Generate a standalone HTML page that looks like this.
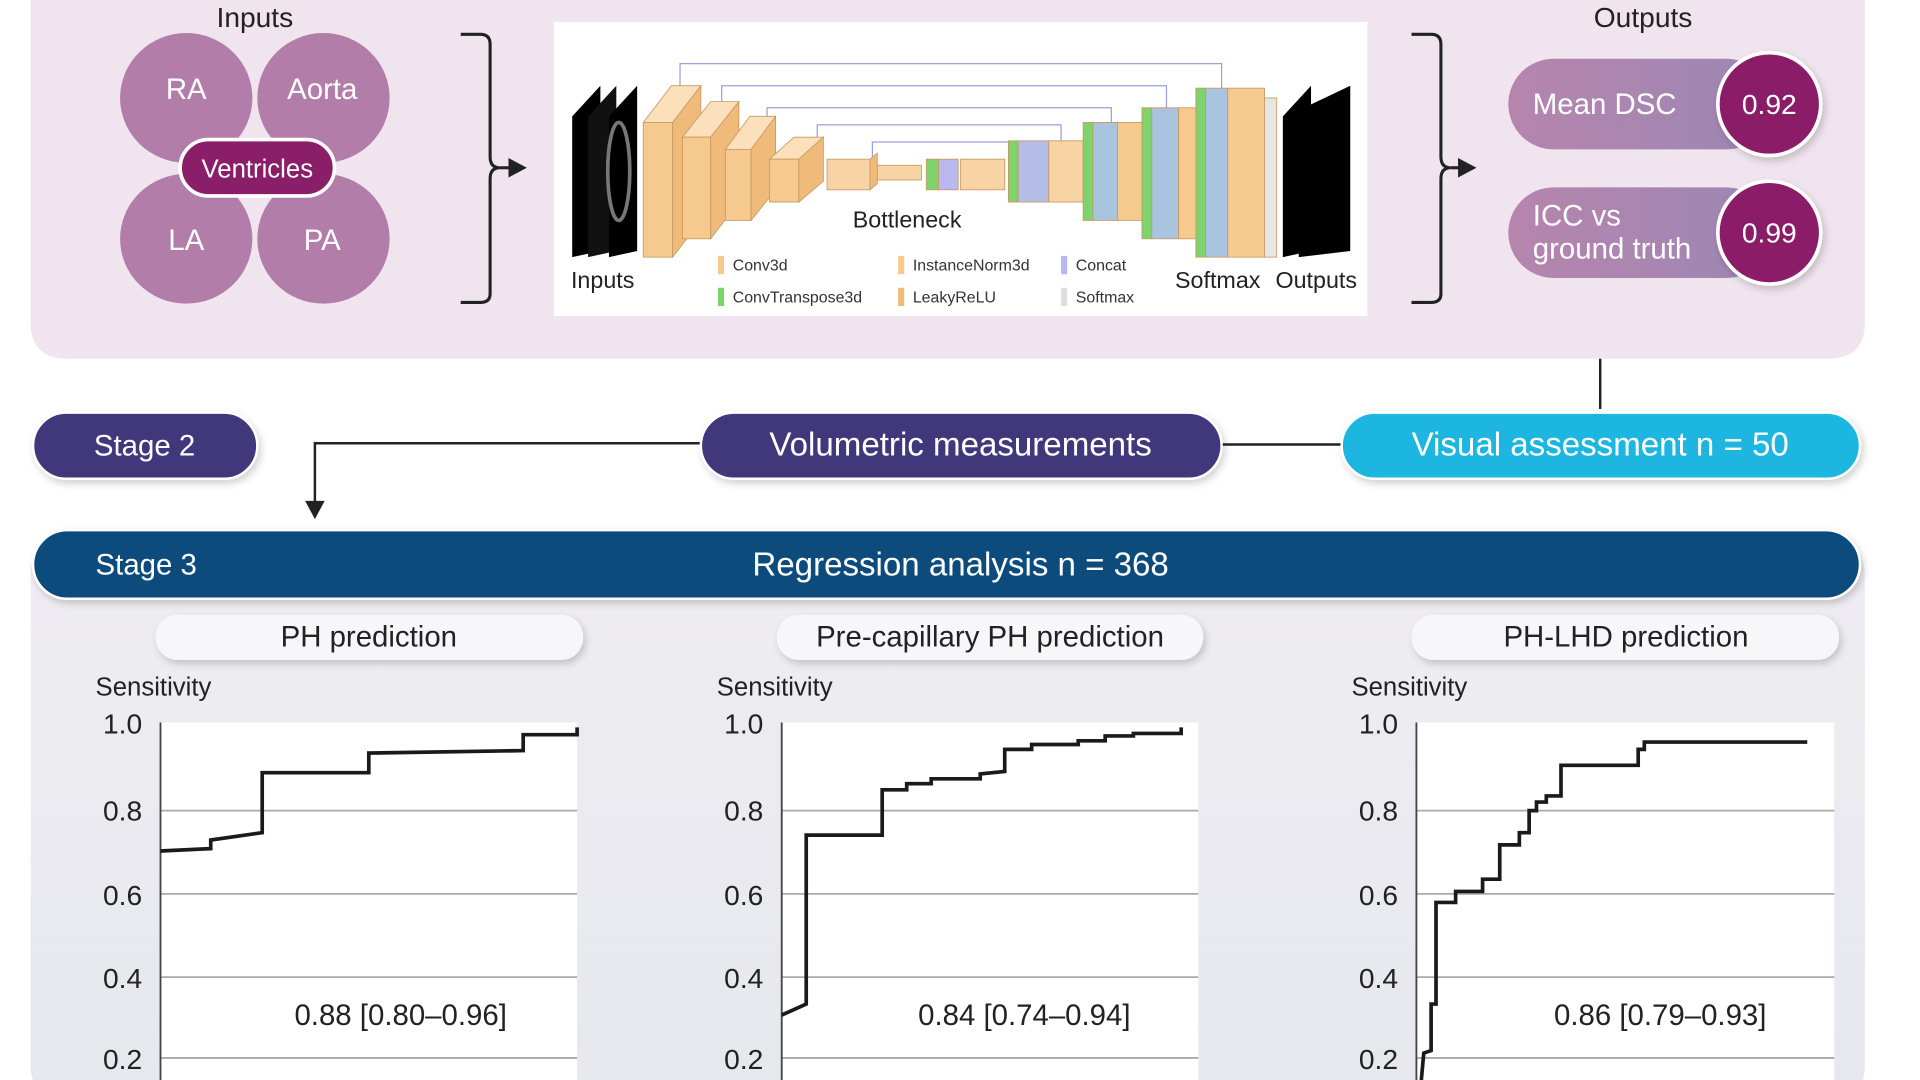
<!DOCTYPE html>
<html><head><meta charset="utf-8"><style>
html,body{margin:0;padding:0;background:#fff;overflow:hidden}
svg{display:block}
text{font-family:"Liberation Sans",sans-serif}
</style></head><body>
<svg width="1920" height="1080" viewBox="0 0 1567 882" preserveAspectRatio="none" xmlns="http://www.w3.org/2000/svg">
<defs>
<linearGradient id="pill" x1="0" x2="1"><stop offset="0" stop-color="#b685ad"/><stop offset="1" stop-color="#9d86b4"/></linearGradient>
<linearGradient id="bot" x1="0" y1="0" x2="0" y2="1"><stop offset="0" stop-color="#efedf2"/><stop offset="1" stop-color="#e6e8ee"/></linearGradient>
<filter id="sh" x="-10%" y="-20%" width="120%" height="150%"><feDropShadow dx="2" dy="3" stdDeviation="3" flood-color="#000" flood-opacity="0.18"/></filter>
</defs>
<path d="M25 0 H1522 V263 Q1522 293 1492 293 H55 Q25 293 25 263 Z" fill="#f0e4ee"/>
<rect x="25" y="440" width="1497" height="460" rx="28" fill="url(#bot)"/>

<text x="208" y="22" font-size="23" text-anchor="middle" fill="#222">Inputs</text>
<g fill="#b27da9">
<ellipse cx="152" cy="80" rx="54" ry="53"/><ellipse cx="264" cy="80" rx="54" ry="53"/>
<ellipse cx="152" cy="195" rx="54" ry="53"/><ellipse cx="264" cy="195" rx="54" ry="53"/>
</g>
<line x1="208" y1="28" x2="208" y2="248" stroke="#f0e4ee" stroke-width="3"/>
<line x1="98" y1="137" x2="318" y2="137" stroke="#f0e4ee" stroke-width="3"/>
<g fill="#fff" font-size="24" text-anchor="middle">
<text x="152" y="81">RA</text><text x="263" y="81">Aorta</text>
<text x="152" y="204">LA</text><text x="263" y="204">PA</text>
</g>
<rect x="147" y="114" width="126" height="46" rx="23" fill="#8a1e68" stroke="#fff" stroke-width="3"/>
<text x="210" y="145" font-size="21" fill="#fff" text-anchor="middle">Ventricles</text>

<g fill="none" stroke="#222" stroke-width="2.5">
<path d="M376 28 H392 Q400 28 400 36 V128 Q400 137 408 137 Q400 137 400 146 V240 Q400 247 392 247 H376"/>
<path d="M408 137 H418"/>
<path d="M1152 28 H1168 Q1176 28 1176 36 V128 Q1176 137 1184 137 Q1176 137 1176 146 V240 Q1176 247 1168 247 H1152"/>
<path d="M1184 137 H1192"/>
</g>
<polygon points="415,129 430,137 415,145" fill="#222"/>
<polygon points="1190,129 1205,137 1190,145" fill="#222"/>

<rect x="452" y="18" width="664" height="240" fill="#fff"/>
<g stroke="#9aa0d8" stroke-width="1" fill="none">
<path d="M555 95 V52 H997 V95"/><path d="M589 112 V70 H952 V112"/><path d="M626 125 V88 H907 V125"/>
<path d="M667 140 V102 H866 V140"/><path d="M712 148 V116 H825 V148"/>
</g>
<polygon points="467,95 490,70 490,205 467,210" fill="#000"/>
<polygon points="480,95 503,70 503,205 480,210" fill="#111"/>
<polygon points="497,95 520,70 520,205 497,210" fill="#000"/>
<ellipse cx="505" cy="140" rx="9" ry="40" fill="none" stroke="#777" stroke-width="3"/>
<polygon points="1047,95 1070,70 1070,205 1047,210" fill="#000"/>
<polygon points="1060,90 1102,70 1102,205 1060,210" fill="#000"/>
<g stroke="#c79a63" stroke-width="0.7">
<polygon points="525,100 548,70 572,70 549,100" fill="#fbe0bb"/><rect x="525" y="100" width="24" height="110" fill="#f6c98e"/><polygon points="549,100 572,70 572,180 549,210" fill="#f0bb7a"/>
<polygon points="557,112 580,83 603,83 580,112" fill="#fbe0bb"/><rect x="557" y="112" width="23" height="83" fill="#f6c98e"/><polygon points="580,112 603,83 603,165 580,195" fill="#f0bb7a"/>
<polygon points="592,122 612,95 633,95 613,122" fill="#fbe0bb"/><rect x="592" y="122" width="21" height="58" fill="#f6c98e"/><polygon points="613,122 633,95 633,155 613,180" fill="#f0bb7a"/>
<polygon points="628,130 648,112 672,112 652,130" fill="#fbe0bb"/><rect x="628" y="130" width="24" height="35" fill="#f6c98e"/><polygon points="652,130 672,112 672,148 652,165" fill="#f0bb7a"/>
<rect x="675" y="130" width="35" height="25" fill="#f8d3a3"/><polygon points="710,130 716,125 716,150 710,155" fill="#f0bb7a"/>
<rect x="716" y="135" width="36" height="12" fill="#f8d3a3"/>
<rect x="756" y="130" width="10" height="25" fill="#7fd36b"/><rect x="766" y="130" width="16" height="25" fill="#b9b9f0"/>
<rect x="784" y="130" width="36" height="25" fill="#f8d3a3"/>
<rect x="823" y="115" width="8" height="50" fill="#7fd36b"/><rect x="831" y="115" width="25" height="50" fill="#b3bde8"/><rect x="856" y="115" width="28" height="50" fill="#f8d3a3"/>
<rect x="884" y="100" width="8" height="80" fill="#7fd36b"/><rect x="892" y="100" width="20" height="80" fill="#a9c4df"/><rect x="912" y="100" width="28" height="80" fill="#f6c98e"/>
<rect x="932" y="88" width="8" height="107" fill="#7fd36b"/><rect x="940" y="88" width="22" height="107" fill="#a9c4df"/><rect x="962" y="88" width="18" height="107" fill="#f6c98e"/>
<rect x="976" y="72" width="8" height="138" fill="#7fd36b"/><rect x="984" y="72" width="18" height="138" fill="#a9c4df"/><rect x="1002" y="72" width="30" height="138" fill="#f6c98e"/>
<rect x="1032" y="80" width="10" height="130" fill="#e6e6e6"/>
</g>
<g font-size="19" fill="#222">
<text x="696" y="186">Bottleneck</text>
<text x="466" y="235">Inputs</text>
<text x="959" y="235">Softmax</text>
<text x="1041" y="235">Outputs</text>
</g>
<g font-size="13" fill="#333">
<rect x="586" y="209" width="5" height="15" fill="#f6c98e"/><text x="598" y="221">Conv3d</text>
<rect x="586" y="235" width="5" height="15" fill="#7fd36b"/><text x="598" y="247">ConvTranspose3d</text>
<rect x="733" y="209" width="5" height="15" fill="#f6c98e"/><text x="745" y="221">InstanceNorm3d</text>
<rect x="733" y="235" width="5" height="15" fill="#f0bb7a"/><text x="745" y="247">LeakyReLU</text>
<rect x="866" y="209" width="5" height="15" fill="#b9b9f0"/><text x="878" y="221">Concat</text>
<rect x="866" y="235" width="5" height="15" fill="#ddd"/><text x="878" y="247">Softmax</text>
</g>

<text x="1341" y="22" font-size="23" text-anchor="middle" fill="#222">Outputs</text>
<rect x="1231" y="48" width="215" height="74" rx="37" fill="url(#pill)"/>
<text x="1251" y="93" font-size="24" fill="#fff">Mean DSC</text>
<circle cx="1444" cy="85" r="42" fill="#8a1e68" stroke="#fff" stroke-width="3" filter="url(#sh)"/>
<text x="1444" y="93" font-size="23" fill="#fff" text-anchor="middle">0.92</text>
<rect x="1231" y="153" width="215" height="74" rx="37" fill="url(#pill)"/>
<text x="1251" y="184" font-size="24" fill="#fff">ICC vs</text>
<text x="1251" y="211" font-size="24" fill="#fff">ground truth</text>
<circle cx="1444" cy="190" r="42" fill="#8a1e68" stroke="#fff" stroke-width="3" filter="url(#sh)"/>
<text x="1444" y="198" font-size="23" fill="#fff" text-anchor="middle">0.99</text>

<line x1="1306" y1="293" x2="1306" y2="334" stroke="#222" stroke-width="2"/>
<line x1="997" y1="363" x2="1095" y2="363" stroke="#222" stroke-width="2"/>
<path d="M572 362 H257 V412" fill="none" stroke="#222" stroke-width="2"/>
<polygon points="249,409 257,424 265,409" fill="#222"/>
<rect x="27" y="337" width="183" height="54" rx="27" fill="#41397a" stroke="#fff" stroke-width="2" filter="url(#sh)"/>
<text x="118" y="372" font-size="24" fill="#fff" text-anchor="middle">Stage 2</text>
<rect x="572" y="337" width="425" height="54" rx="27" fill="#41397a" stroke="#fff" stroke-width="2" filter="url(#sh)"/>
<text x="784" y="372" font-size="27" fill="#fff" text-anchor="middle">Volumetric measurements</text>
<rect x="1095" y="337" width="423" height="54" rx="27" fill="#1db6e0" stroke="#fff" stroke-width="2" filter="url(#sh)"/>
<text x="1306" y="372" font-size="27" fill="#fff" text-anchor="middle">Visual assessment n = 50</text>

<rect x="27" y="433" width="1491" height="56" rx="28" fill="#0d4c7c" stroke="#fff" stroke-width="2" filter="url(#sh)"/>
<text x="78" y="469" font-size="24" fill="#fff">Stage 3</text>
<text x="784" y="470" font-size="27" fill="#fff" text-anchor="middle">Regression analysis n = 368</text>

<g filter="url(#sh)" fill="#f7f7f9">
<rect x="127" y="502" width="349" height="37" rx="18"/>
<rect x="634" y="502" width="348" height="37" rx="18"/>
<rect x="1152" y="502" width="349" height="37" rx="18"/>
</g>
<g font-size="24" fill="#222" text-anchor="middle">
<text x="301" y="528">PH prediction</text>
<text x="808" y="528">Pre-capillary PH prediction</text>
<text x="1327" y="528">PH-LHD prediction</text>
</g>

<g font-size="21" fill="#222">
<text x="78" y="568">Sensitivity</text><text x="585" y="568">Sensitivity</text><text x="1103" y="568">Sensitivity</text>
</g>
<g fill="#fff"><rect x="131" y="590" width="340" height="300"/><rect x="638" y="590" width="340" height="300"/><rect x="1156" y="590" width="341" height="300"/></g>
<g stroke="#aaa" stroke-width="1.5">
<line x1="131" y1="662" x2="471" y2="662"/><line x1="131" y1="730" x2="471" y2="730"/><line x1="131" y1="798" x2="471" y2="798"/><line x1="131" y1="864" x2="471" y2="864"/>
<line x1="638" y1="662" x2="978" y2="662"/><line x1="638" y1="730" x2="978" y2="730"/><line x1="638" y1="798" x2="978" y2="798"/><line x1="638" y1="864" x2="978" y2="864"/>
<line x1="1156" y1="662" x2="1497" y2="662"/><line x1="1156" y1="730" x2="1497" y2="730"/><line x1="1156" y1="798" x2="1497" y2="798"/><line x1="1156" y1="864" x2="1497" y2="864"/>
</g>
<g stroke="#444" stroke-width="1.5">
<line x1="131" y1="590" x2="131" y2="882"/><line x1="638" y1="590" x2="638" y2="882"/><line x1="1156" y1="590" x2="1156" y2="882"/>
</g>
<g font-size="23" fill="#222" text-anchor="end">
<text x="116" y="599">1.0</text><text x="116" y="670">0.8</text><text x="116" y="739">0.6</text><text x="116" y="807">0.4</text><text x="116" y="873">0.2</text>
<text x="623" y="599">1.0</text><text x="623" y="670">0.8</text><text x="623" y="739">0.6</text><text x="623" y="807">0.4</text><text x="623" y="873">0.2</text>
<text x="1141" y="599">1.0</text><text x="1141" y="670">0.8</text><text x="1141" y="739">0.6</text><text x="1141" y="807">0.4</text><text x="1141" y="873">0.2</text>
</g>
<g fill="none" stroke="#1a1a1a" stroke-width="3">
<polyline points="131,695 172,693 172,686 214,680 214,631 301,631 301,615 427,613 427,600 471,600 471,594"/>
<polyline points="638,829 658,820 658,682 720,682 720,645 740,645 740,640 760,640 760,636 800,636 800,632 820,630 820,612 842,612 842,608 880,608 880,605 902,605 902,601 925,601 925,599 964,599 964,594"/>
<polyline points="1160,882 1162,860 1168,858 1168,820 1172,820 1172,737 1188,737 1188,728 1210,728 1210,718 1224,718 1224,690 1240,690 1240,680 1248,680 1248,662 1254,662 1254,655 1262,655 1262,650 1274,650 1274,625 1337,625 1337,612 1342,612 1342,606 1475,606"/>
</g>
<g font-size="24" fill="#222" text-anchor="middle">
<text x="327" y="837">0.88 [0.80–0.96]</text>
<text x="836" y="837">0.84 [0.74–0.94]</text>
<text x="1355" y="837">0.86 [0.79–0.93]</text>
</g>
</svg>
</body></html>
